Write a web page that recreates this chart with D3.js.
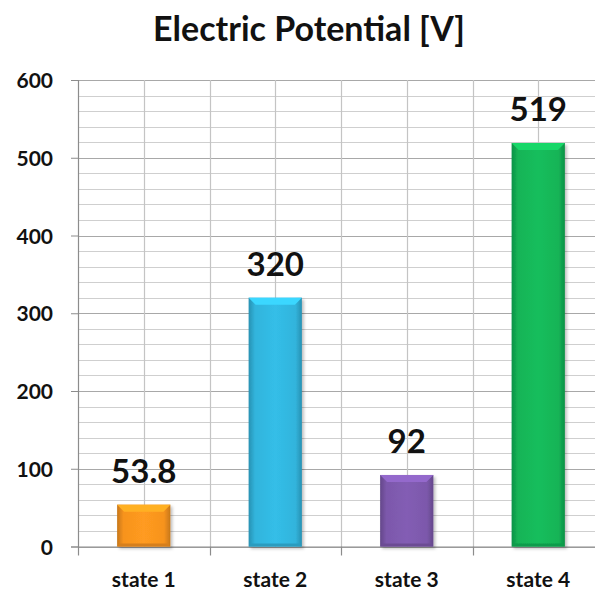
<!DOCTYPE html>
<html>
<head>
<meta charset="utf-8">
<script src="https://cdn.jsdelivr.net/npm/d3@7"></script>
<style>
  html, body { margin: 0; padding: 0; background: #fff; }
  svg { display: block; }
  text { font-family: Lato, "Open Sans", "DejaVu Sans", sans-serif; font-weight: bold; fill: #111; }
</style>
</head>
<body>
<script>
// Electric potential per state
const categories = ["state 1", "state 2", "state 3", "state 4"];
const values = [53.8, 320, 92, 519];
const valueLabels = ["53.8", "320", "92", "519"];
const barColors = ["#f7931e", "#31b4dc", "#7c58ab", "#13b457"];
const yTicks = [0, 100, 200, 300, 400, 500, 600];
const chartTitle = "Electric Potential [V]";

const W = 595, H = 593;
const margin = { left: 78, top: 80, bottom: 546.5 };
const plotRight = 604;

const svg = d3.select("body").append("svg")
  .attr("width", W).attr("height", H)
  .style("overflow", "hidden");

const x = d3.scaleBand().domain(categories).range([margin.left, plotRight]).padding(0);
const y = d3.scaleLinear().domain([0, 600]).range([margin.bottom, margin.top]);

const defs = svg.append("defs");
const shadow = defs.append("filter").attr("id", "shadow")
  .attr("x", "-20%").attr("y", "-20%").attr("width", "150%").attr("height", "150%");
shadow.append("feDropShadow").attr("dx", 2).attr("dy", 2).attr("stdDeviation", 1.5)
  .attr("flood-color", "#000").attr("flood-opacity", 0.25);

barColors.forEach((c, i) => {
  const base = d3.color(c);
  const g = defs.append("linearGradient").attr("id", "grad" + i)
    .attr("x1", "0").attr("x2", "1").attr("y1", "0").attr("y2", "0");
  g.append("stop").attr("offset", "0").attr("stop-color", base.darker(0.6));
  g.append("stop").attr("offset", "0.12").attr("stop-color", base);
  g.append("stop").attr("offset", "0.5").attr("stop-color", base.brighter(0.15));
  g.append("stop").attr("offset", "0.88").attr("stop-color", base);
  g.append("stop").attr("offset", "1").attr("stop-color", base.darker(0.6));
});

// Gridlines: minor every 20, major every 100
const grid = svg.append("g");
d3.range(0, 601, 20).forEach(v => {
  grid.append("line")
    .attr("x1", margin.left).attr("x2", W)
    .attr("y1", Math.round(y(v)) + 0.5).attr("y2", Math.round(y(v)) + 0.5)
    .attr("stroke", v % 100 === 0 ? "#a8a8a8" : "#cfcfcf").attr("stroke-width", 1.2);
});
// Vertical gridlines at category centers and boundaries
const vx = [];
categories.forEach(c => { vx.push(x(c) + x.bandwidth() / 2); vx.push(x(c) + x.bandwidth()); });
vx.forEach(px => {
  grid.append("line")
    .attr("x1", Math.round(px) + 0.5).attr("x2", Math.round(px) + 0.5)
    .attr("y1", margin.top).attr("y2", margin.bottom)
    .attr("stroke", "#c4c4c4").attr("stroke-width", 1.2);
});

// Y axis
const yAxis = svg.append("g").attr("transform", `translate(${margin.left},0)`)
  .call(d3.axisLeft(y).tickValues(yTicks).tickSize(7).tickPadding(18));
yAxis.select(".domain").attr("stroke", "#8c8c8c").attr("stroke-width", 1.2);
yAxis.selectAll(".tick line").attr("stroke", "#8c8c8c");
yAxis.selectAll(".tick text").style("font-size", "21px").attr("fill", "#111").attr("dy", "0.36em");

// X axis
const xAxis = svg.append("g").attr("transform", `translate(0,${margin.bottom})`)
  .call(d3.axisBottom(x).tickSize(0).tickPadding(26));
xAxis.select(".domain").attr("stroke", "#8c8c8c").attr("stroke-width", 1.2);
xAxis.selectAll(".tick text").style("font-size", "21px").attr("fill", "#111");
// Boundary tick marks below the axis
categories.forEach((c, i) => {
  const bx = x(c);
  svg.append("line")
    .attr("x1", Math.round(bx) + 0.5).attr("x2", Math.round(bx) + 0.5)
    .attr("y1", margin.bottom).attr("y2", margin.bottom + 9)
    .attr("stroke", "#8c8c8c").attr("stroke-width", 1.2);
});

// Bars with bevelled top
const barW = x.bandwidth() * 0.405;
const bars = svg.append("g");
categories.forEach((c, i) => {
  const cx = x(c) + x.bandwidth() / 2;
  const x0 = cx - barW / 2, x1 = cx + barW / 2;
  const top = y(values[i]), bot = y(0);
  const base = d3.color(barColors[i]);
  const g = bars.append("g").attr("filter", "url(#shadow)");
  g.append("rect")
    .attr("x", x0).attr("y", top).attr("width", barW).attr("height", bot - top)
    .attr("fill", `url(#grad${i})`);
  const bev = 7;
  g.append("path")
    .attr("d", `M${x0},${top} L${x1},${top} L${x1 - bev},${top + bev} L${x0 + bev},${top + bev} Z`)
    .attr("fill", base.brighter(0.5));
  g.append("path")
    .attr("d", `M${x0},${bot} L${x1},${bot} L${x1 - 3},${bot - 3} L${x0 + 3},${bot - 3} Z`)
    .attr("fill", base.darker(0.4));
  svg.append("text")
    .attr("x", cx).attr("y", top - 22)
    .attr("text-anchor", "middle")
    .style("font-size", "33px")
    .text(valueLabels[i]);
});

// Title
svg.append("text")
  .attr("x", 309).attr("y", 41)
  .attr("text-anchor", "middle")
  .style("font-size", "34px")
  .text(chartTitle);
</script>
</body>
</html>
